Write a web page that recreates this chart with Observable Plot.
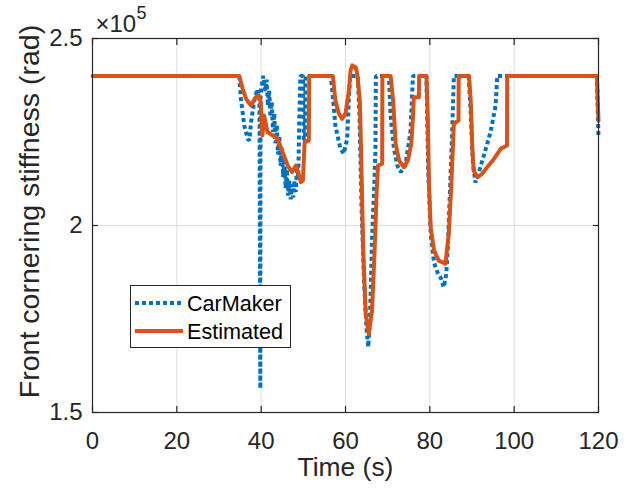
<!DOCTYPE html>
<html>
<head>
<meta charset="utf-8">
<script src="https://cdn.jsdelivr.net/npm/d3@7"></script>
<script src="https://cdn.jsdelivr.net/npm/@observablehq/plot@0.6"></script>
<style>
  html, body { margin: 0; padding: 0; background: #fff; }
  #wrap { position: relative; width: 631px; height: 491px; font-family: "Liberation Sans", Arial, sans-serif; }
  #legend { position: absolute; left: 130px; top: 285px; width: 159px; height: 61px; border: 1px solid #262626; background: #fff; }
</style>
</head>
<body>
<div id="wrap"></div>
<script>
// ---- data (values in units of 1e5) ----
const xTicks = [0, 20, 40, 60, 80, 100, 120];
const yTicks = [1.5, 2, 2.5];
const yTickLabels = ["1.5", "2", "2.5"];
const xLabel = "Time (s)";
const yLabel = "Front cornering stiffness (rad)";
const expLabel = "×10";
const expPower = "5";
const seriesNames = ["CarMaker", "Estimated"];
const seriesColors = ["#0072BD", "#D95319"];

const tCarMaker = [0, 34.8, 35.2, 36.0, 36.8, 37.2, 37.6, 38.3, 39.1, 39.6, 39.8, 39.85, 40.5,
  41.0, 41.3, 41.6, 41.9, 42.2, 42.5, 42.8, 43.1, 43.4, 43.7, 44.0, 44.3, 44.6, 44.9, 45.2, 45.5, 45.8, 46.1, 46.4, 46.7, 47.0, 47.3, 47.6, 47.9, 48.2, 48.5, 48.8, 49.0, 49.3, 49.9, 50.1, 50.4, 50.5,
  56.5, 56.9, 57.6, 58.8, 59.6, 60.4, 60.8, 61.1,
  62.9, 63.3, 63.8, 64.4, 65.0, 65.4, 65.8, 66.3, 66.8, 67.1, 67.2,
  70.3, 70.7, 71.5, 72.3, 73.1, 74.2, 75.4, 76.0,
  79.2, 79.6, 80.2, 81.0, 81.8, 82.6, 83.3, 83.9, 84.3, 84.8, 85.3, 85.7,
  89.2, 89.7, 90.2, 90.8, 91.3, 92.8, 94.4, 95.6, 96.0,
  119.6, 120];
const vCarMaker = [2.40, 2.40, 2.339, 2.267, 2.232, 2.227, 2.276, 2.33, 2.365, 2.34, 1.564, 2.35, 2.40,
  2.36, 2.39, 2.32, 2.36, 2.29, 2.33, 2.25, 2.30, 2.22, 2.27, 2.19, 2.24, 2.16, 2.21, 2.13, 2.18, 2.10, 2.15, 2.08, 2.12, 2.07, 2.11, 2.075, 2.12, 2.09, 2.16, 2.13, 2.26, 2.40, 2.40, 2.222, 2.222, 2.40,
  2.40, 2.356, 2.267, 2.205, 2.192, 2.232, 2.339, 2.40,
  2.40, 2.30, 2.05, 1.85, 1.72, 1.675, 1.75, 1.969, 2.10, 2.20, 2.40,
  2.40, 2.294, 2.205, 2.16, 2.143, 2.16, 2.25, 2.40,
  2.40, 2.15, 1.98, 1.90, 1.875, 1.86, 1.835, 1.87, 1.95, 2.10, 2.25, 2.40,
  2.40, 2.30, 2.17, 2.115, 2.13, 2.187, 2.25, 2.321, 2.40,
  2.40, 2.235];

const tEstimated = [0, 34.8, 35.6, 36.4, 37.6, 38.7, 39.4, 39.9, 40.3, 40.7, 41.5, 42.7, 43.9, 45.1, 46.3, 47.3, 48.2, 49.0, 49.4, 49.9, 50.3, 51.3, 51.4,
  57.0, 57.6, 58.4, 59.2, 60.0, 60.8, 61.2, 61.6, 62.4, 62.8,
  63.4, 63.7, 64.2, 64.8, 65.5, 66.3, 66.9, 67.4, 67.7, 68.7, 68.75,
  70.7, 71.3, 71.9, 72.7, 73.8, 74.8, 75.6, 76.0, 76.2, 77.4, 77.45,
  79.2, 79.5, 79.8, 80.2, 81.0, 82.1, 83.7, 84.5, 85.1, 85.7, 86.8, 86.85,
  89.3, 89.7, 90.1, 90.4, 91.3, 92.4, 93.6, 95.2, 96.8, 98.3, 98.35,
  119.6, 120];
const vEstimated = [2.40, 2.40, 2.366, 2.339, 2.321, 2.343, 2.348, 2.33, 2.241, 2.294, 2.25, 2.241, 2.232, 2.196, 2.16, 2.143, 2.16, 2.134, 2.116, 2.12, 2.223, 2.227, 2.40,
  2.40, 2.334, 2.30, 2.285, 2.30, 2.36, 2.415, 2.428, 2.423, 2.404,
  2.334, 2.20, 1.933, 1.764, 1.71, 1.773, 1.933, 2.094, 2.16, 2.165, 2.40,
  2.40, 2.334, 2.218, 2.174, 2.156, 2.174, 2.218, 2.29, 2.343, 2.343, 2.40,
  2.40, 2.29, 2.111, 1.995, 1.933, 1.906, 1.898, 1.978, 2.111, 2.272, 2.281, 2.40,
  2.40, 2.334, 2.20, 2.147, 2.129, 2.138, 2.156, 2.178, 2.205, 2.214, 2.40,
  2.40, 2.28];

const carMaker = tCarMaker.map((t, i) => ({t, v: vCarMaker[i]}));
const estimated = tEstimated.map((t, i) => ({t, v: vEstimated[i]}));

const ink = "#262626";
const font = "'Liberation Sans', Arial, Helvetica, sans-serif";

const chart = Plot.plot({
  width: 631,
  height: 491,
  marginLeft: 92,
  marginRight: 33,
  marginTop: 38,
  marginBottom: 79,
  style: {fontFamily: font, fontSize: "24px", color: ink, background: "#fff", overflow: "visible"},
  x: {domain: [0, 120]},
  y: {domain: [1.5, 2.5]},
  marks: [
    Plot.gridX(xTicks, {stroke: "#dedede", strokeOpacity: 1, strokeWidth: 1}),
    Plot.gridY(yTicks, {stroke: "#dedede", strokeOpacity: 1, strokeWidth: 1}),
    Plot.line(carMaker, {x: "t", y: "v", stroke: seriesColors[0], strokeWidth: 4, strokeDasharray: "4,3", strokeLinecap: "butt", strokeLinejoin: "miter"}),
    Plot.line(estimated, {x: "t", y: "v", stroke: seriesColors[1], strokeWidth: 4, strokeLinejoin: "round"}),
    Plot.frame({stroke: ink, strokeWidth: 1.2}),
    Plot.axisX(xTicks, {anchor: "bottom", tickSize: -6, tickPadding: 25, label: null, stroke: ink, strokeWidth: 1.2, fill: ink, fontSize: 24}),
    Plot.axisX(xTicks, {anchor: "top", tickSize: -6, tickFormat: () => "", label: null, stroke: ink, strokeWidth: 1.2}),
    Plot.axisY(yTicks, {anchor: "left", tickSize: -6, tickPadding: 16, label: null, tickFormat: (d) => yTickLabels[yTicks.indexOf(d)], stroke: ink, strokeWidth: 1.2, fill: ink, fontSize: 24}),
    Plot.axisY(yTicks, {anchor: "right", tickSize: -6, tickFormat: () => "", label: null, stroke: ink, strokeWidth: 1.2}),
    Plot.text([xLabel], {frameAnchor: "bottom", dy: 55, lineAnchor: "middle", textAnchor: "middle", fontSize: 26.4, fill: ink}),
    Plot.text([yLabel], {frameAnchor: "left", dx: -63, dy: -14, rotate: -90, lineAnchor: "middle", textAnchor: "middle", fontSize: 28.5, fill: ink}),
    Plot.text([expLabel], {frameAnchor: "top-left", dx: 3, dy: -14, textAnchor: "start", lineAnchor: "middle", fontSize: 24, fill: ink}),
    Plot.text([expPower], {frameAnchor: "top-left", dx: 44, dy: -25, textAnchor: "start", lineAnchor: "middle", fontSize: 18, fill: ink})
  ]
});

const wrap = document.getElementById("wrap");
wrap.appendChild(chart);

// legend
const legend = document.createElement("div");
legend.id = "legend";
const ns = "http://www.w3.org/2000/svg";
const lsvg = document.createElementNS(ns, "svg");
lsvg.setAttribute("width", 159);
lsvg.setAttribute("height", 61);
const rows = [{y: 17, dash: "4,3"}, {y: 45, dash: null}];
seriesNames.forEach((name, i) => {
  const line = document.createElementNS(ns, "line");
  line.setAttribute("x1", 4); line.setAttribute("x2", 52);
  line.setAttribute("y1", rows[i].y); line.setAttribute("y2", rows[i].y);
  line.setAttribute("stroke", seriesColors[i]);
  line.setAttribute("stroke-width", 4);
  if (rows[i].dash) line.setAttribute("stroke-dasharray", rows[i].dash);
  lsvg.appendChild(line);
  const txt = document.createElementNS(ns, "text");
  txt.setAttribute("x", 56); txt.setAttribute("y", rows[i].y);
  txt.setAttribute("dy", "0.35em");
  txt.setAttribute("font-family", font);
  txt.setAttribute("font-size", 21.6);
  txt.setAttribute("fill", "#000");
  txt.textContent = name;
  lsvg.appendChild(txt);
});
legend.appendChild(lsvg);
wrap.appendChild(legend);
</script>
</body>
</html>
